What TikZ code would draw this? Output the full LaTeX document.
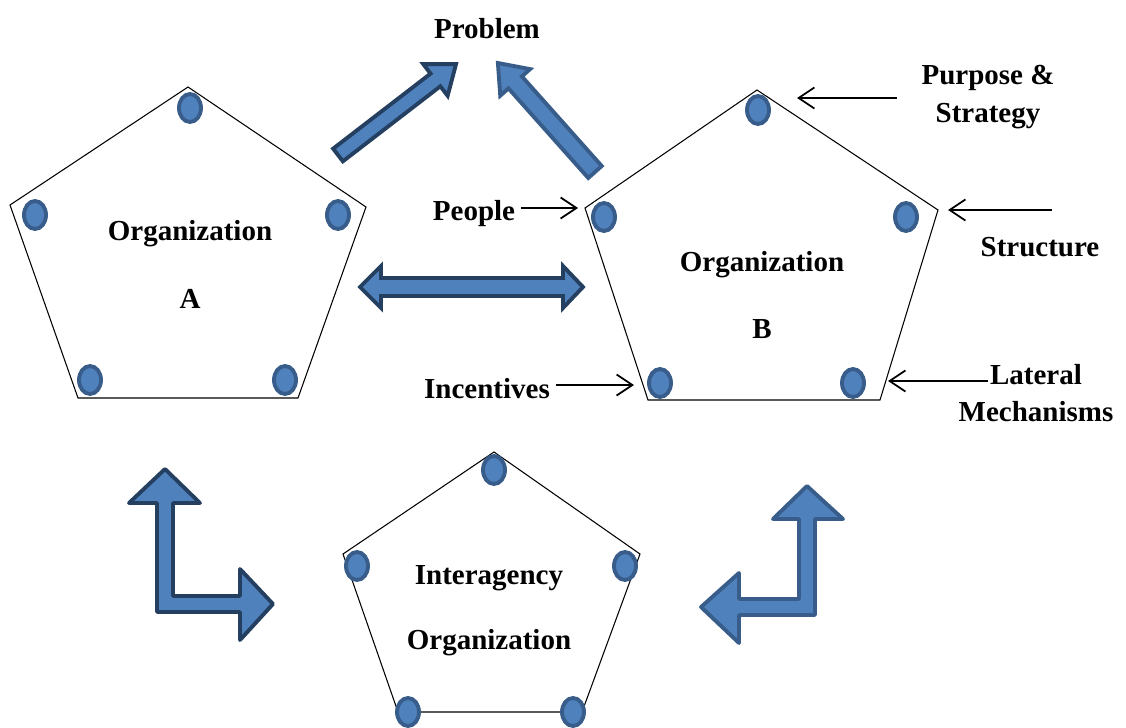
\documentclass[tikz,border=0pt]{standalone}
\usepackage{fontspec}
\setmainfont{Liberation Serif}
\usetikzlibrary{arrows.meta}
\definecolor{boxblue}{HTML}{4F81BD}
\definecolor{rimdark}{HTML}{243F60}
\definecolor{rimblue}{HTML}{385D8A}
% straight block arrow: [rim]{tail}{angle}{length}{half shaft}
\newcommand{\fatarrow}[5][rimdark]{%
    \begin{scope}[shift={(#2)}, rotate=#3]
        \draw[fill=boxblue, draw=#1, line width=2.2pt, line join=miter]
            (0,-#5) -- (#4-26,-#5) -- (#4-26,-20) -- (#4,0)
            -- (#4-26,20) -- (#4-26,#5) -- (0,#5) -- cycle;
    \end{scope}
}

\begin{document}
\begin{tikzpicture}[x=0.02cm, y=-0.02cm,
    lbl/.style={font=\fontsize{16.5}{21.5}\selectfont\bfseries, align=center},
    dot/.style={fill=boxblue, draw=rimblue, line width=2.2pt},
    pent/.style={line width=0.6pt},
    pointer/.style={line width=1pt, -{Straight Barb[length=9pt,width=12pt]}}]
    \useasboundingbox (0,0) rectangle (1126,727);

    % the three organizations
    \draw[pent] (188,87) -- (366,207) -- (298,398) -- (78,398) -- (10,205) -- cycle;
    \draw[pent] (757,90) -- (938,210) -- (880,400) -- (648,400) -- (585,208) -- cycle;
    \draw[pent] (494,452) -- (640,554) -- (582,712) -- (398,712) -- (343,554) -- cycle;
    \foreach \p in {(190,108),(35,215),(338,215),(90,380),(285,380),
                    (758,110),(604,217),(906,217),(660,383),(853,383),
                    (494,470),(357,566),(625,566),(408,712),(573,712)}
        \draw[dot] \p ellipse [x radius=0.22cm, y radius=0.28cm];

    \node[lbl] (orgA) at (190,234) {Organization};
    \node[lbl] (letterA) at (190,299) {A};
    \node[lbl] (orgB) at (762,265) {Organization};
    \node[lbl] (letterB) at (762,329) {B};
    \node[lbl] (inter) at (489,578) {Interagency};
    \node[lbl] (interorg) at (489,643) {Organization};
    \node[lbl] (problem) at (487,29) {Problem};

    % block arrows
    \fatarrow{338,155}{37.6}{149}{8}
    \fatarrow[rimblue]{595,172}{131.7}{146}{9}
    \draw[fill=boxblue, draw=rimdark, line width=2.2pt]
        (360,287) -- (381,266) -- (381,278) -- (563,278) -- (563,266) -- (583,287)
        -- (563,308) -- (563,296) -- (381,296) -- (381,308) -- cycle;
    \draw[fill=boxblue, draw=rimdark, line width=2.2pt, line join=round]
        (165,469) -- (200,503) -- (173,503) -- (173,596) -- (240,596) -- (240,569)
        -- (273,604) -- (240,640) -- (240,612) -- (157,612) -- (157,503) -- (129,503) -- cycle;
    \draw[fill=boxblue, draw=rimblue, line width=2.2pt, line join=round]
        (807,486) -- (843,519) -- (815,519) -- (815,615) -- (739,615) -- (739,643)
        -- (701,607) -- (739,573) -- (739,599) -- (799,599) -- (799,519) -- (773,519) -- cycle;

    % parts of organization B
    \node[lbl] (purpose) at (988,97) {Purpose \&\\Strategy};
    \node[lbl] (people) at (474,214) {People};
    \node[lbl] (structure) at (1040,247) {Structure};
    \node[lbl] (incentives) at (487,389) {Incentives};
    \node[lbl] (lateral) at (1036,393) {Lateral\\Mechanisms};
    \coordinate (purposetail) at (897,98);
    \coordinate (purposetip) at (797,98);
    \coordinate (peopletip) at (578,208);
    \coordinate (structuretail) at (1052,210);
    \coordinate (structuretip) at (948,210);
    \coordinate (incentivestip) at (634,385);
    \coordinate (lateraltail) at (988,381);
    \coordinate (lateraltip) at (888,381);
    \draw[pointer] (purposetail) -- (purposetip);
    \draw[pointer] (people.east |- peopletip) -- (peopletip);
    \draw[pointer] (structuretail) -- (structuretip);
    \draw[pointer] (incentives.east |- incentivestip) -- (incentivestip);
    \draw[pointer] (lateraltail) -- (lateraltip);
\end{tikzpicture}
\end{document}
